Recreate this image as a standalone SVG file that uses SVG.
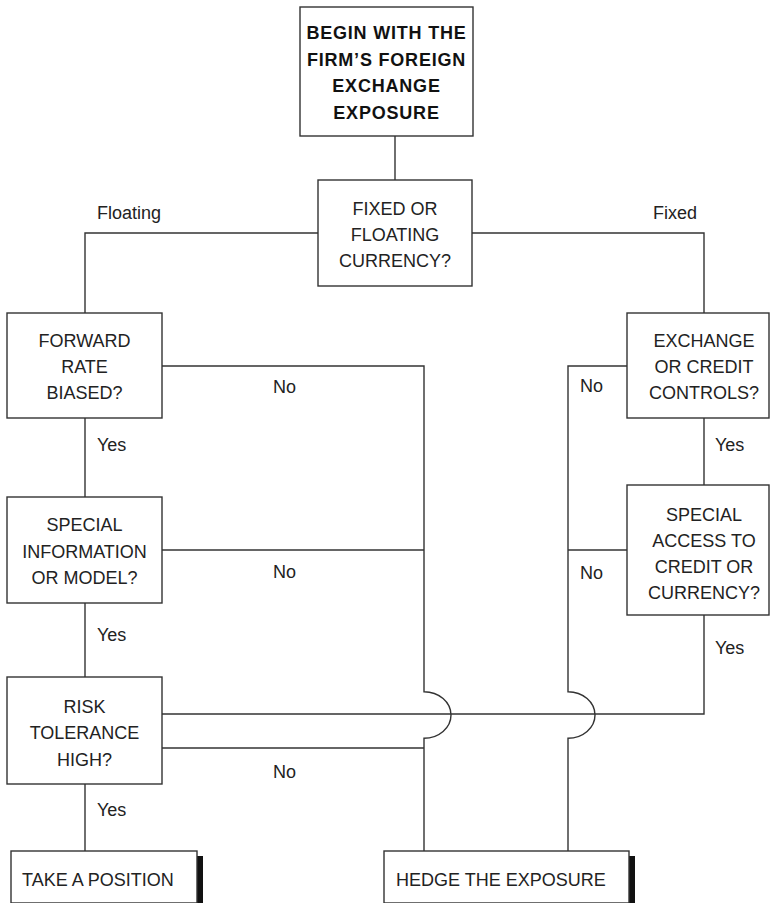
<svg xmlns="http://www.w3.org/2000/svg" width="770" height="903" viewBox="0 0 770 903">
<style>
.box{fill:#fff;stroke:#333;stroke-width:1.4}
.ln{fill:none;stroke:#333;stroke-width:1.4}
.t{font-family:"Liberation Sans",Arial,sans-serif;font-size:18px;fill:#222;text-anchor:middle}
.b{font-family:"Liberation Sans",Arial,sans-serif;font-size:18px;font-weight:bold;fill:#111;text-anchor:middle;letter-spacing:0.8px}
.l{font-family:"Liberation Sans",Arial,sans-serif;font-size:18px;fill:#222}
.sh{fill:#111}
</style>
<rect width="770" height="903" fill="#fff"/>
<g id="connectors">
<path class="ln" d="M395,136 V180"/>
<path class="ln" d="M318,233 H85 V313"/>
<path class="ln" d="M472,233 H704 V313"/>
<path class="ln" d="M85,418 V497"/>
<path class="ln" d="M85,603 V677"/>
<path class="ln" d="M85,784 V851"/>
<path class="ln" d="M704,418 V485"/>
<path class="ln" d="M162,366 H424 V691.7 A27,23.3 0 0 1 424,738.3 V851"/>
<path class="ln" d="M162,550 H424"/>
<path class="ln" d="M162,748 H424"/>
<path class="ln" d="M627,366 H568 V691.7 A27,23.3 0 0 1 568,738.3 V851"/>
<path class="ln" d="M627,550 H568"/>
<path class="ln" d="M162,714 H704 V615"/>
<text class="l" x="97" y="219">Floating</text>
<text class="l" x="653" y="219">Fixed</text>
<text class="l" x="97" y="451">Yes</text>
<text class="l" x="97" y="641">Yes</text>
<text class="l" x="97" y="816">Yes</text>
<text class="l" x="715" y="451">Yes</text>
<text class="l" x="715" y="654">Yes</text>
<text class="l" x="273" y="393">No</text>
<text class="l" x="273" y="578">No</text>
<text class="l" x="273" y="778">No</text>
<text class="l" x="580" y="392">No</text>
<text class="l" x="580" y="579">No</text>
</g>
<g id="start">
<rect class="box" x="300" y="7" width="173" height="129"/>
<text class="b" x="386.5" y="39">BEGIN WITH THE</text>
<text class="b" x="386.5" y="66">FIRM’S FOREIGN</text>
<text class="b" x="386.5" y="92">EXCHANGE</text>
<text class="b" x="386.5" y="119">EXPOSURE</text>
</g>
<g id="fixed-floating">
<rect class="box" x="318" y="180" width="154" height="106"/>
<text class="t" x="395" y="215">FIXED OR</text>
<text class="t" x="395" y="241">FLOATING</text>
<text class="t" x="395" y="267">CURRENCY?</text>
</g>
<g id="forward-rate">
<rect class="box" x="7" y="313" width="155" height="105"/>
<text class="t" x="84.5" y="347">FORWARD</text>
<text class="t" x="84.5" y="373">RATE</text>
<text class="t" x="84.5" y="399">BIASED?</text>
</g>
<g id="special-info">
<rect class="box" x="7" y="497" width="155" height="106"/>
<text class="t" x="84.5" y="531">SPECIAL</text>
<text class="t" x="84.5" y="558">INFORMATION</text>
<text class="t" x="84.5" y="584">OR MODEL?</text>
</g>
<g id="risk-tolerance">
<rect class="box" x="7" y="677" width="155" height="107"/>
<text class="t" x="84.5" y="713">RISK</text>
<text class="t" x="84.5" y="739">TOLERANCE</text>
<text class="t" x="84.5" y="766">HIGH?</text>
</g>
<g id="exchange-controls">
<rect class="box" x="627" y="313" width="142" height="105"/>
<text class="t" x="704" y="347">EXCHANGE</text>
<text class="t" x="704" y="373">OR CREDIT</text>
<text class="t" x="704" y="399">CONTROLS?</text>
</g>
<g id="special-access">
<rect class="box" x="627" y="485" width="142" height="130"/>
<text class="t" x="704" y="521">SPECIAL</text>
<text class="t" x="704" y="547">ACCESS TO</text>
<text class="t" x="704" y="573">CREDIT OR</text>
<text class="t" x="704" y="599">CURRENCY?</text>
</g>
<g id="take-position">
<rect class="sh" x="197" y="856" width="6" height="47"/>
<rect class="box" x="11" y="851" width="186" height="52"/>
<text class="l" x="22" y="886">TAKE A POSITION</text>
</g>
<g id="hedge">
<rect class="sh" x="629" y="856" width="6" height="47"/>
<rect class="box" x="384" y="851" width="245" height="52"/>
<text class="l" x="396" y="886">HEDGE THE EXPOSURE</text>
</g>
</svg>
